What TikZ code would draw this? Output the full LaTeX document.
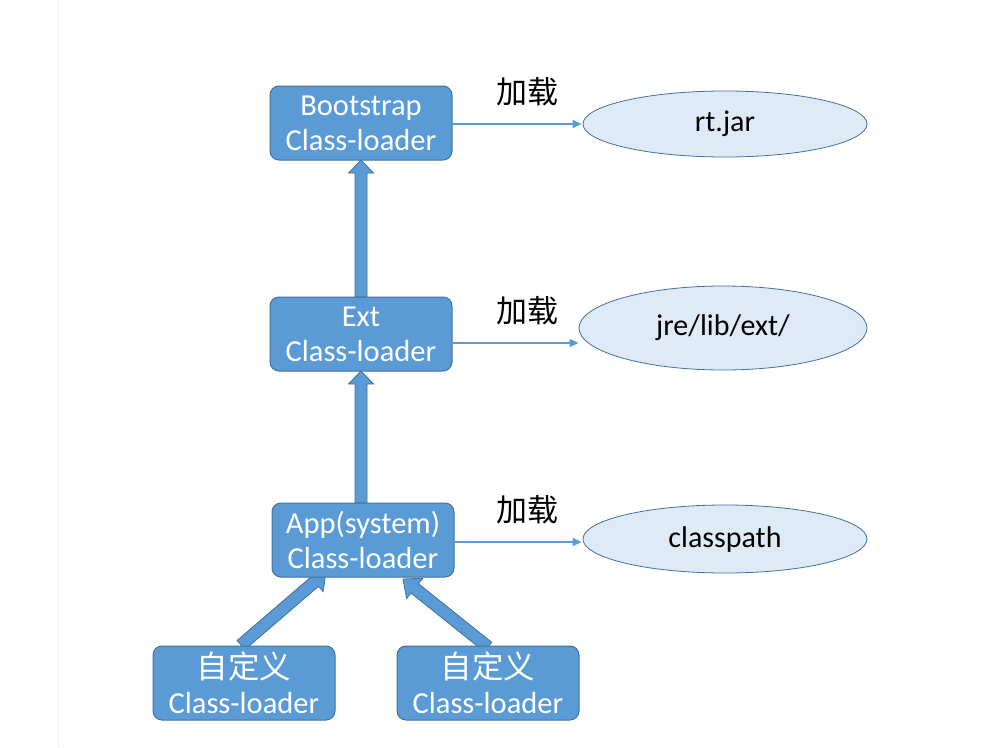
\documentclass[tikz,border=0pt]{standalone}
\usepackage{fontspec}
\setmainfont{Carlito}
\newfontfamily\cjk{Noto Sans CJK SC}
\usetikzlibrary{shapes.geometric,arrows.meta,calc}
\definecolor{boxblue}{HTML}{5B9BD5}
\definecolor{boxedge}{HTML}{41719C}
\definecolor{ellfill}{HTML}{DEEBF7}
\definecolor{faint}{HTML}{F0F0F0}
% block arrow: #1 from, #2 to, #3 half shaft, #4 half head, #5 head length
\newcommand\blockarr[5]{%
\path[blockarrow] let \p1=(#1), \p2=(#2),
  \n1={atan2(\y2-\y1,\x2-\x1)},
  \n2={veclen(\x2-\x1,\y2-\y1)-#5} in
  ($(\p1)+(\n1+90:#3pt)$) -- ($(\p1)+(\n1:\n2)+(\n1+90:#3pt)$)
  -- ($(\p1)+(\n1:\n2)+(\n1+90:#4pt)$) -- (\p2)
  -- ($(\p1)+(\n1:\n2)+(\n1-90:#4pt)$)
  -- ($(\p1)+(\n1:\n2)+(\n1-90:#3pt)$)
  -- ($(\p1)+(\n1-90:#3pt)$) -- cycle;}
\begin{document}
\begin{tikzpicture}[x=1pt,y=-1pt,
  loader/.style={draw=boxedge, line width=1pt, fill=boxblue, rounded corners=9pt,
    minimum width=182pt, minimum height=74pt, inner sep=0pt, align=center,
    text=white, font=\fontsize{30.5}{35}\selectfont},
  target/.style={ellipse, draw=boxedge, line width=0.8pt, fill=ellfill, inner sep=0pt,
    font=\fontsize{30}{35}\selectfont},
  loadarrow/.style={draw=boxblue, line width=1.2pt, -{Triangle[length=9pt,width=8pt]}},
  blockarrow/.style={draw=boxedge, line width=0.8pt, fill=boxblue},
  loadlabel/.style={font=\cjk\fontsize{31}{35}\selectfont, inner sep=0pt}]
\useasboundingbox (0,0) rectangle (985,747);
\draw[faint, line width=0.8pt] (58.5,0) -- (58.5,747);

% nodes (positions)
\path (361,123) coordinate (pboot) (361,334) coordinate (pext) (363,540) coordinate (papp)
      (244,683) coordinate (pc1) (488,683) coordinate (pc2);

% block arrows behind the boxes
\coordinate (extN) at (361,297);
\coordinate (bootS) at (361,160);
\coordinate (appN) at (361,503);
\coordinate (extS) at (361,371);
\coordinate (c1N) at (241,645);
\coordinate (tip1) at (326,572);
\coordinate (c2N) at (488,647);
\coordinate (tip2) at (403,579);
\blockarr{extN}{bootS}{6}{12.5}{13}
\blockarr{appN}{extS}{6}{12.5}{13}
\blockarr{c1N}{tip1}{6}{13}{15}
\blockarr{c2N}{tip2}{6}{13}{15}

\node[loader] (boot) at (pboot) {Bootstrap\\Class-loader};
\node[loader] (ext) at (pext) {Ext\\Class-loader};
\node[loader] (app) at (papp) {App(system)\\Class-loader};
\node[loader] (c1) at (pc1) {{\cjk\fontsize{31.5}{35}\selectfont 自定义}\\Class-loader};
\node[loader] (c2) at (pc2) {{\cjk\fontsize{31.5}{35}\selectfont 自定义}\\Class-loader};

\node[target, minimum width=284pt, minimum height=66pt] (rt) at (725,124) {rt.jar};
\node[target, minimum width=288pt, minimum height=84pt] (jre) at (723,328) {jre/lib/ext/};
\node[target, minimum width=284pt, minimum height=68pt] (cp) at (725,539) {classpath};

\draw[loadarrow] ([yshift=-1pt]boot.east) -- ([xshift=-1pt,yshift=-1pt]boot.east -| rt.west);
\draw[loadarrow] ([yshift=-9pt]ext.east) -- ([yshift=-9pt]ext.east -| jre.west);
\draw[loadarrow] ([yshift=-2pt]app.east) -- ([xshift=-1pt,yshift=-2pt]app.east -| cp.west);

\node[loadlabel] (l1) at (527,92) {加载};
\node[loadlabel] (l2) at (527,311) {加载};
\node[loadlabel] (l3) at (527,510) {加载};
\end{tikzpicture}
\end{document}
